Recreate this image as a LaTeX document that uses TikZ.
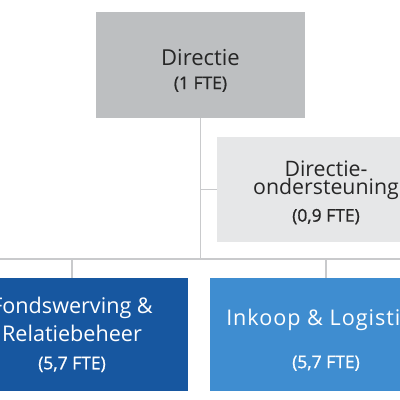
\documentclass[tikz,border=0pt]{standalone}
\usepackage{fontspec}
\setmainfont{Open Sans}
\newfontfamily\ftefont[FakeBold=0.9]{Open Sans}
\newfontfamily\breedfont[LetterSpace=4.5]{Open Sans}
\newcommand\fte{\ftefont\fontsize{17.5}{18}\selectfont}
\newcommand\boven[1]{\rule{0pt}{#1}}
\definecolor{directiegrijs}{HTML}{BDBFC1}
\definecolor{stafgrijs}{HTML}{E6E7E8}
\definecolor{donkerblauw}{HTML}{1757A0}
\definecolor{lichtblauw}{HTML}{3F8DD0}
\definecolor{lijngrijs}{HTML}{C9CACC}

\begin{document}
\begin{tikzpicture}
    [ x=1pt, y=-1pt,
      staf/.style={inner sep=0pt, align=center, minimum width=209pt,
        minimum height=106pt, text=black!85},
      afdeling/.style={inner sep=0pt, align=center, minimum width=232pt,
        minimum height=113pt, text=white, font=\fontsize{21.6}{28}\selectfont},
      lijn/.style={draw=lijngrijs, line width=1.8pt},
    ]
    \useasboundingbox (0, 0) rectangle (400, 400);
    \clip (0, 0) rectangle (400, 400);

    \node[staf, fill=directiegrijs, font=\fontsize{22}{24}\selectfont]
        (dir) at (200.5, 65) {\boven{27pt}Directie\\{\fte (1 FTE)}};
    \node[staf, fill=stafgrijs, minimum width=218pt, minimum height=105pt,
          font=\fontsize{21.3}{18}\selectfont]
        (ond) at (326, 189.5)
        {\boven{22pt}Directie-\\ondersteuning\\[9pt]{\fte (0,9 FTE)}};

    \node[afdeling, fill=donkerblauw] (fond) at (72, 334.5)
        {Fondswerving \&\\Relatiebeheer\\{\fte (5,7 FTE)}};
    \node[afdeling, fill=lichtblauw] (ink) at (326, 334.5)
        {\boven{27pt}{\breedfont Inkoop \& Logistiek}\\[15pt]{\fte (5,7 FTE)}};

    \coordinate (busL) at (0, 259);
    \coordinate (busR) at (400, 259);

    \draw[lijn] (dir.south) -- (dir.south |- busL);
    \draw[lijn] (ond.west) -- (ond.west -| dir.south);
    \draw[lijn] (busL) -- (busR);
    \foreach \n in {fond, ink}
        \draw[lijn] (\n.north) -- (\n.north |- busL);
\end{tikzpicture}
\end{document}
